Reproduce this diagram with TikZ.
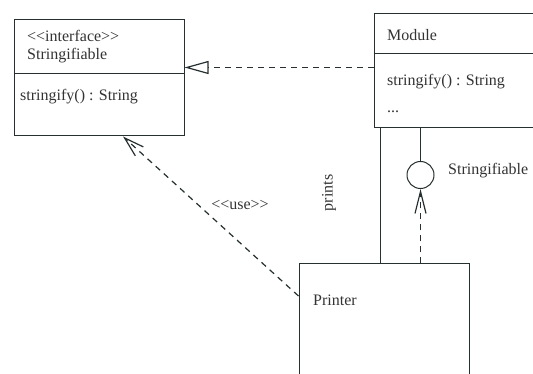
\documentclass[tikz,border=0pt]{standalone}
\usepackage{fontspec}
\setmainfont{Liberation Serif}
\usepackage{tikz}
\usetikzlibrary{arrows.meta, positioning}
\definecolor{umlline}{HTML}{263030}
\definecolor{umltext}{HTML}{333333}

%% guillemets written as two plain angle brackets
\newcommand{\stereo}[1]{<\kern0pt<#1>\kern0pt>}

\tikzset{
  classbox/.style={draw=umlline, line width=1pt, rectangle, inner sep=0pt,
                   anchor=north west},
  member/.style={font=\fontsize{16}{19}\selectfont, text=umltext, inner sep=0pt,
                 anchor=west},
  dep/.style={draw=umlline, line width=1.2pt, dash pattern=on 6pt off 5pt},
  solid line/.style={draw=umlline, line width=1pt},
}

\begin{document}
\begin{tikzpicture}[x=1pt, y=-1pt]
  \useasboundingbox (0,0) rectangle (533,374);

  %% --- Interface: Stringifiable ---
  \node[classbox, minimum width=170pt, minimum height=116pt] (iface) at (13.5,19.5) {};
  \draw[solid line] (13.5,73.5) -- (183.5,73.5);
  \node[member] (ifstereo) at (27,36) {\stereo{interface}};
  \node[member] (ifname)   at (27,56) {Stringifiable};
  \node[member] (ifop)     at (20,97) {stringify() : String};

  %% --- Class: Module (runs off to the right) ---
  \node[classbox, minimum width=200pt, minimum height=114pt] (module) at (373.5,13.5) {};
  \draw[solid line] (373.5,53.5) -- (573.5,53.5);
  \node[member] (modname) at (387,35)  {Module};
  \node[member] (modop)   at (387,82)  {stringify() : String};
  \node[member] (moddots) at (387,112) {...};

  %% --- Class: Printer ---
  \node[classbox, minimum width=170pt, minimum height=140pt] (printer) at (298.5,263.5) {};
  \node[member] (prname) at (313,300) {Printer};

  %% provided interface (lollipop)
  \node[draw=umlline, line width=1pt, circle, minimum size=27pt, inner sep=0pt]
    (lolli) at (420.5,175) {};
  \node[member] (lolliname) at (448,171) {Stringifiable};

  %% --- Connectors ---
  %% realization Module -> interface
  \draw[dep, -{Triangle[open, length=24pt, width=13pt]}]
    (module.west |- 0,67.5) -- (iface.east |- 0,67.5);
  %% usage Printer -> interface
  \draw[dep, -{Straight Barb[length=20pt, width=12pt]}]
    (printer.west |- 0,296) -- (iface.south -| 123,0);
  \node[member, anchor=center] (uselbl) at (240,205) {\stereo{use}};
  %% association "prints"
  \draw[solid line] (module.south -| 380.5,0) -- (printer.north -| 380.5,0);
  \node[member, anchor=center, rotate=90] (printslbl) at (329,193) {prints};
  %% lollipop stem and required interface
  \draw[solid line] (module.south -| lolli) -- (lolli.north);
  \draw[dep, -{Straight Barb[length=22pt, width=11pt]}]
    (printer.north -| lolli) -- (lolli.south);
\end{tikzpicture}
\end{document}
